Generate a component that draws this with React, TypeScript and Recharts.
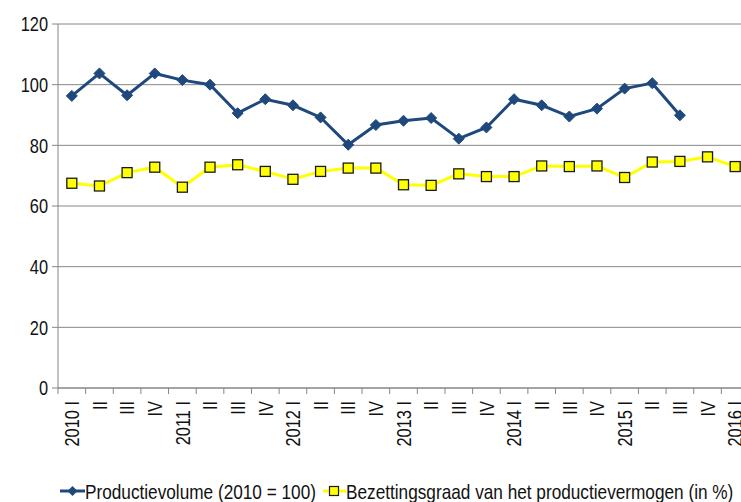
import { LineChart, Line, XAxis, YAxis, CartesianGrid, Legend } from 'recharts'

const categories = [
  '2010 I', 'II', 'III', 'IV',
  '2011 I', 'II', 'III', 'IV',
  '2012 I', 'II', 'III', 'IV',
  '2013 I', 'II', 'III', 'IV',
  '2014 I', 'II', 'III', 'IV',
  '2015 I', 'II', 'III', 'IV',
  '2016 I',
]

const productievolume = [
  96.3, 103.7, 96.5, 103.7,
  101.5, 100.0, 90.6, 95.2,
  93.2, 89.2, 80.2, 86.7,
  88.1, 89.0, 82.2, 85.9,
  95.2, 93.2, 89.5, 92.1,
  98.7, 100.5, 89.9, null,
  null,
]

const bezettingsgraad = [
  67.5, 66.6, 71.0, 72.8,
  66.2, 72.8, 73.6, 71.4,
  68.8, 71.4, 72.5, 72.5,
  67.0, 66.8, 70.6, 69.7,
  69.7, 73.2, 73.0, 73.2,
  69.4, 74.5, 74.7, 76.2,
  73.0,
]

const yTicks = [0, 20, 40, 60, 80, 100, 120]

const seriesNames = ['Productievolume (2010 = 100)', 'Bezettingsgraad van het productievermogen (in %)']

const BLUE = '#1F497D'
const YELLOW = '#FFFF00'
const GRID = '#868686'
const FONT = "'Liberation Sans', Arial, sans-serif"
const NARROW = 0.82 // Liberation Sans squeezed to Arial Narrow widths
const PLOT_W = 691
const HALF_STEP = PLOT_W / categories.length / 2
const TICK_SIZE = 6
const TICK_MARGIN = 7

const data = categories.map((c, i) => ({
  cat: c,
  volume: productievolume[i],
  bezetting: bezettingsgraad[i],
}))

function Diamond({ cx, cy }: { cx?: number; cy?: number }) {
  if (cx == null || cy == null) return null
  const r = 5.5
  return (
    <polygon
      points={`${cx},${cy - r} ${cx + r},${cy} ${cx},${cy + r} ${cx - r},${cy}`}
      fill={BLUE}
      stroke={BLUE}
    />
  )
}

function Square({ cx, cy }: { cx?: number; cy?: number }) {
  if (cx == null || cy == null) return null
  const s = 10
  return <rect x={cx - s / 2} y={cy - s / 2} width={s} height={s} fill={YELLOW} stroke="#1a1a1a" strokeWidth={1.3} />
}

// category label plus Excel-style tick marks between categories
function CatTick({ x = 0, y = 0, index = 0, payload }: { x?: number; y?: number; index?: number; payload?: { value: string } }) {
  const axisY = y - TICK_SIZE - TICK_MARGIN
  const last = index === categories.length - 1
  return (
    <g>
      <line x1={x - HALF_STEP} x2={x - HALF_STEP} y1={axisY} y2={axisY + TICK_SIZE} stroke={GRID} />
      {last && <line x1={x + HALF_STEP} x2={x + HALF_STEP} y1={axisY} y2={axisY + TICK_SIZE} stroke={GRID} />}
      <g transform={`translate(${x},${y}) rotate(-90) scale(${NARROW},1)`}>
        <text textAnchor="end" dy="0.36em" fill="#111" fontSize={20} fontFamily={FONT}>
          {payload?.value}
        </text>
      </g>
    </g>
  )
}

function ValueTick({ x, y, payload }: { x?: number; y?: number; payload?: { value: number } }) {
  return (
    <g transform={`translate(${x},${y}) scale(${NARROW},1)`}>
      <text textAnchor="end" dy="0.36em" fill="#111" fontSize={20} fontFamily={FONT}>
        {payload?.value}
      </text>
    </g>
  )
}

function LegendContent() {
  return (
    <svg width={690} height={22} style={{ display: 'block' }}>
      <line x1={0} y1={11} x2={25} y2={11} stroke={BLUE} strokeWidth={3} />
      <polygon points="12.5,6 17.5,11 12.5,16 7.5,11" fill={BLUE} />
      <text x={0} y={0} transform={`translate(25,11) scale(${NARROW},1)`} dy="0.36em" fontSize={21} fontFamily={FONT} fill="#111">
        {seriesNames[0]}
      </text>
      <line x1={263} y1={11} x2={286} y2={11} stroke={YELLOW} strokeWidth={3} />
      <rect x={269.5} y={6.5} width={9} height={9} fill={YELLOW} stroke="#1a1a1a" strokeWidth={1.2} />
      <text x={0} y={0} transform={`translate(286,11) scale(${NARROW},1)`} dy="0.36em" fontSize={21} fontFamily={FONT} fill="#111">
        {seriesNames[1]}
      </text>
    </svg>
  )
}

export default function App() {
  return (
    <div style={{ position: 'absolute', left: 0, top: 0, width: 741, height: 502, overflow: 'hidden', background: '#fff' }}>
      <LineChart width={760} height={502} data={data} margin={{ top: 24, right: 11, bottom: 0, left: 0 }}>
        <CartesianGrid horizontal vertical={false} stroke={GRID} />
        <XAxis
          dataKey="cat"
          interval={0}
          height={92}
          padding={{ left: HALF_STEP, right: HALF_STEP }}
          axisLine={{ stroke: GRID }}
          tickLine={false}
          tickSize={TICK_SIZE}
          tickMargin={TICK_MARGIN}
          tick={<CatTick />}
        />
        <YAxis
          domain={[0, 120]}
          ticks={yTicks}
          width={58}
          axisLine={{ stroke: GRID }}
          tickLine={{ stroke: GRID }}
          tickSize={6}
          tickMargin={4}
          tick={<ValueTick />}
        />
        <Legend verticalAlign="bottom" align="left" height={22} wrapperStyle={{ left: 60 }} content={<LegendContent />} />
        <Line
          type="linear"
          dataKey="volume"
          stroke={BLUE}
          strokeWidth={3}
          dot={<Diamond />}
          activeDot={false}
          isAnimationActive={false}
        />
        <Line
          type="linear"
          dataKey="bezetting"
          stroke={YELLOW}
          strokeWidth={3}
          dot={<Square />}
          activeDot={false}
          isAnimationActive={false}
        />
      </LineChart>
    </div>
  )
}
